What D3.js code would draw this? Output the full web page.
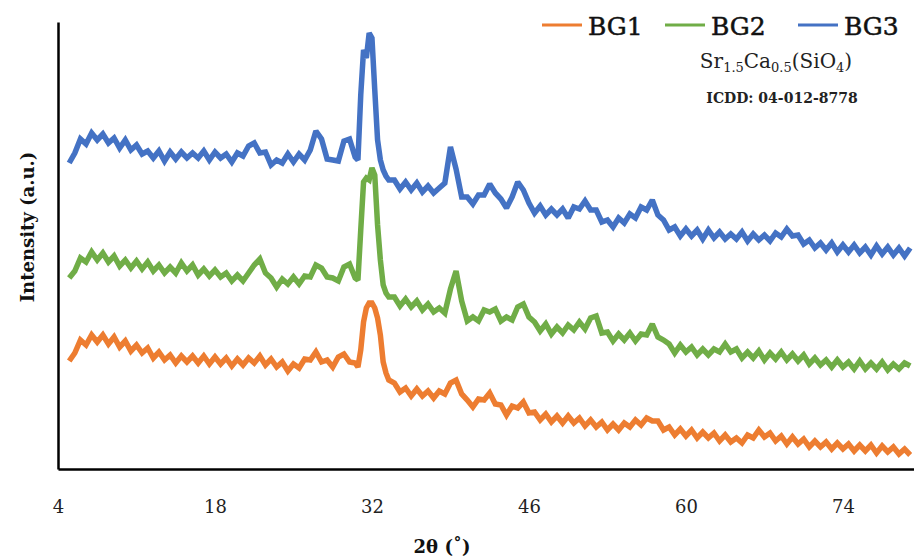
<!DOCTYPE html>
<html>
<head>
<meta charset="utf-8">
<script src="https://cdn.jsdelivr.net/npm/d3@7"></script>
<style>
  html, body { margin: 0; padding: 0; background: #fff; }
  svg { display: block; }
</style>
</head>
<body>
<svg id="chart" width="914" height="558"></svg>
<script>
// ---- Data ----
const seriesNames = ["BG1", "BG2", "BG3"];
const seriesColors = ["#ED7D31", "#70AD47", "#4472C4"];
const xTickValues = [4, 18, 32, 46, 60, 74];

const twoTheta = [
  5,5.5,6,6.5,7,7.5,8,8.5,9,9.5,10,10.5,11,11.5,12,12.5,13,13.5,14,14.5,
  15,15.5,16,16.5,17,17.5,18,18.5,19,19.5,20,20.5,21,21.5,22,22.5,23,23.5,24,24.5,
  25,25.5,26,26.5,27,27.5,28,28.5,29,29.5,30,30.5,
  30.75,31,31.25,31.5,31.75,32,32.25,32.5,32.75,33,33.25,33.5,
  34,34.5,35,35.5,36,36.5,37,37.5,38,38.5,39,39.5,40,40.5,41,41.5,42,42.5,43,43.5,
  44,44.5,45,45.5,46,46.5,47,47.5,48,48.5,49,49.5,50,50.5,51,51.5,52,52.5,53,53.5,
  54,54.5,55,55.5,56,56.5,57,57.5,58,58.5,59,59.5,60,60.5,61,61.5,62,62.5,63,63.5,
  64,64.5,65,65.5,66,66.5,67,67.5,68,68.5,69,69.5,70,70.5,71,71.5,72,72.5,73,73.5,
  74,74.5,75,75.5,76,76.5,77,77.5,78,78.5,79,79.5,80
];

const bg1 = [
  108,116,129,124,134,127,134,125,132,122,128,118,124,116,121,111,117,109,114,106,
  113,107,113,106,113,105,112,105,111,103,110,104,111,106,113,104,110,102,107,98,
  105,101,110,109,117,107,109,102,112,115,107,106,
  102,119,147,161,166,166,161,151,134,107,96,89,
  86,77,81,73,80,73,78,71,78,75,86,89,75,69,62,70,69,76,65,64,
  54,63,61,67,56,57,49,55,47,53,46,53,46,51,43,49,42,47,39,45,
  39,46,42,49,44,51,48,48,39,42,34,40,33,39,31,37,31,36,28,34,
  27,31,26,34,31,39,32,36,28,33,25,32,25,30,22,28,22,27,20,26,
  20,25,18,24,18,24,16,23,17,22,15,20,14
];

const bg2 = [
  191,198,211,207,217,209,216,207,213,203,209,201,208,200,207,198,204,196,202,196,
  206,198,204,194,200,193,199,192,196,188,194,188,196,204,210,196,191,182,190,185,
  192,185,193,192,204,201,192,191,188,202,205,191,
  189,239,287,291,289,301,294,244,209,184,176,172,
  172,163,170,162,168,159,165,157,161,156,180,198,168,148,152,148,159,157,160,148,
  152,149,162,165,152,147,138,145,135,142,136,144,139,147,140,151,153,136,137,128,
  135,129,136,128,135,134,145,132,129,125,116,124,117,122,114,120,114,120,117,125,
  117,120,111,117,111,118,109,116,110,117,109,115,108,114,105,111,104,109,102,109,
  102,107,100,108,100,106,100,107,99,105,100,106,103
];

const bg3 = [
  306,316,330,325,336,329,335,326,331,321,329,319,324,315,318,311,318,308,317,310,
  317,311,316,311,318,309,317,311,315,307,316,313,323,326,316,317,304,309,306,315,
  307,315,309,319,338,330,310,309,308,328,330,312,
  309,374,419,411,436,431,379,329,309,299,293,289,
  289,280,287,279,286,277,283,276,281,286,322,300,272,272,265,274,274,285,276,270,
  261,272,287,279,266,256,263,254,260,254,260,251,262,260,268,259,259,247,249,242,
  251,246,255,251,262,259,269,254,249,239,242,233,240,233,239,230,239,231,237,230,
  235,230,237,228,235,229,234,228,236,232,240,233,234,225,229,221,226,219,226,217,
  224,217,224,216,222,214,223,215,222,214,221,213,221
];

const seriesValues = [bg1, bg2, bg3];

// ---- Chart ----
const svg = d3.select("#chart");
const plotLeft = 58, plotRight = 914, plotTop = 22, plotBottom = 469;

const x = d3.scaleLinear().domain([4, 80.34]).range([plotLeft, plotRight]);
const y = d3.scaleLinear().domain([0, 447]).range([plotBottom, plotTop]);

const line = d3.line()
  .x(d => x(d[0]))
  .y(d => y(d[1]));

seriesValues.forEach((vals, i) => {
  const pts = twoTheta.map((t, k) => [t, vals[k]]);
  svg.append("path")
    .datum(pts)
    .attr("fill", "none")
    .attr("stroke", seriesColors[i])
    .attr("stroke-width", 5.5)
    .attr("stroke-linejoin", "miter")
    .attr("stroke-miterlimit", 2)
    .attr("stroke-linecap", "butt")
    .attr("d", line);
});

// x axis
const xAxis = svg.append("g")
  .attr("transform", `translate(0,${plotBottom})`)
  .call(d3.axisBottom(x).tickValues(xTickValues).tickSize(0).tickSizeOuter(0).tickPadding(31)
        .tickFormat(d3.format("d")));
xAxis.select(".domain").attr("stroke", "#000").attr("stroke-width", 2.5);
xAxis.selectAll("text")
  .attr("font-family", "'DejaVu Serif', serif")
  .attr("font-size", 18)
  .attr("fill", "#222");

// y axis (no ticks)
const yAxis = svg.append("g")
  .attr("transform", `translate(${plotLeft},0)`)
  .call(d3.axisLeft(y).tickValues([]).tickSizeOuter(0));
yAxis.select(".domain").attr("stroke", "#000").attr("stroke-width", 2.5);

// axis titles
svg.append("text")
  .attr("x", 442).attr("y", 553)
  .attr("text-anchor", "middle")
  .attr("font-family", "'DejaVu Serif', serif")
  .attr("font-weight", "bold")
  .attr("font-size", 18)
  .attr("fill", "#111")
  .text("2θ (˚)");

svg.append("text")
  .attr("transform", "translate(34,227) rotate(-90)")
  .attr("text-anchor", "middle")
  .attr("font-family", "'DejaVu Serif', serif")
  .attr("font-weight", "bold")
  .attr("font-size", 18)
  .attr("fill", "#111")
  .text("Intensity (a.u.)");

// legend
const legendLineX = [542, 665, 798];
const legend = svg.append("g");
seriesNames.forEach((name, i) => {
  legend.append("line")
    .attr("x1", legendLineX[i]).attr("x2", legendLineX[i] + 40)
    .attr("y1", 25).attr("y2", 25)
    .attr("stroke", seriesColors[i]).attr("stroke-width", 3);
  legend.append("text")
    .attr("x", legendLineX[i] + 46).attr("y", 35)
    .attr("font-family", "'DejaVu Serif', serif")
    .attr("font-size", 25)
    .attr("fill", "#111")
    .attr("stroke", "#111")
    .attr("stroke-width", 0.5)
    .text(name);
});

// phase annotation
const phase = svg.append("text")
  .attr("x", 776).attr("y", 68)
  .attr("text-anchor", "middle")
  .attr("font-family", "'DejaVu Serif', serif")
  .attr("font-size", 20)
  .attr("fill", "#222");
phase.append("tspan").text("Sr");
phase.append("tspan").attr("font-size", 13).attr("dy", 4).text("1.5");
phase.append("tspan").attr("dy", -4).text("Ca");
phase.append("tspan").attr("font-size", 13).attr("dy", 4).text("0.5");
phase.append("tspan").attr("dy", -4).text("(SiO");
phase.append("tspan").attr("font-size", 13).attr("dy", 4).text("4");
phase.append("tspan").attr("dy", -4).text(")");

svg.append("text")
  .attr("x", 782).attr("y", 103)
  .attr("text-anchor", "middle")
  .attr("font-family", "'DejaVu Serif', serif")
  .attr("font-weight", "bold")
  .attr("font-size", 14)
  .attr("fill", "#222")
  .text("ICDD: 04-012-8778");
</script>
</body>
</html>
